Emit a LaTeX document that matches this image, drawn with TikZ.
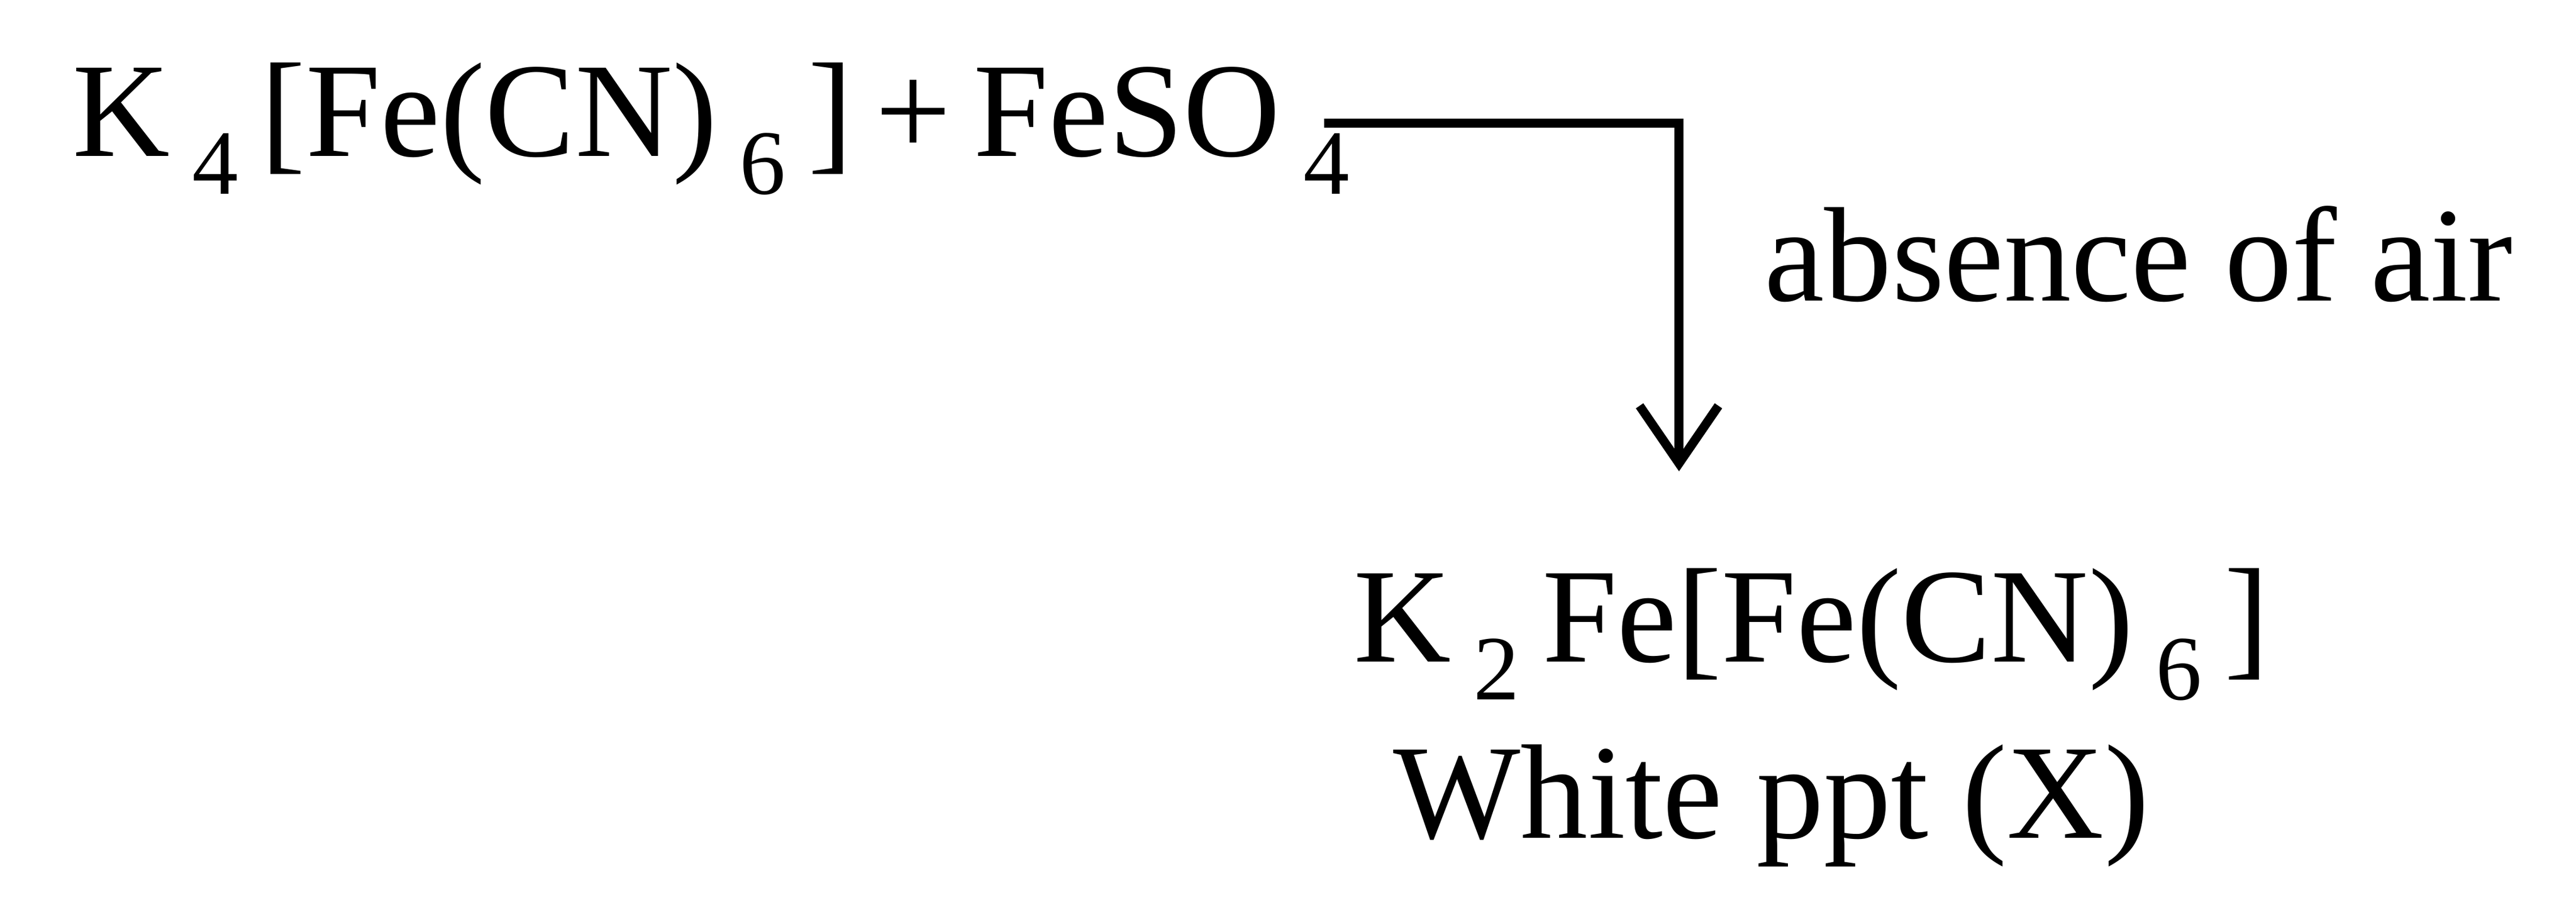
\documentclass[tikz,border=0pt]{standalone}
\usepackage{fontspec}
\setmainfont{Liberation Serif}
\newcommand\sbs[1]{\,\raisebox{-0.28em}{\fontsize{56}{56}\selectfont #1}\,}
\begin{document}
\begin{tikzpicture}[x=1pt,y=-1pt,
  txt/.style={inner sep=0pt,anchor=base west,font=\fontsize{82}{86}\selectfont},
  ln/.style={line width=5.5pt}]
\useasboundingbox (0,0) rectangle (1568,561);
\node[txt] (r) at (44,95) {K\sbs{4}[Fe(CN)\sbs{6}]\,+\,FeSO\sbs{4}};
\node[txt] (c) at (1074,183) {absence of air};
\node[txt] (p) at (824,403) {K\sbs{2}Fe[Fe(CN)\sbs{6}]};
\node[txt] (w) at (848,510) {White ppt (X)};
\coordinate (s) at (806,75);
\coordinate (k) at (1022,75);
\coordinate (e) at (1022,282);
\draw[ln] (s) -- (k) -- (e);
\draw[ln,line join=miter] ([xshift=-24pt,yshift=35pt]e) -- (e) -- ([xshift=24pt,yshift=35pt]e);
\end{tikzpicture}
\end{document}
